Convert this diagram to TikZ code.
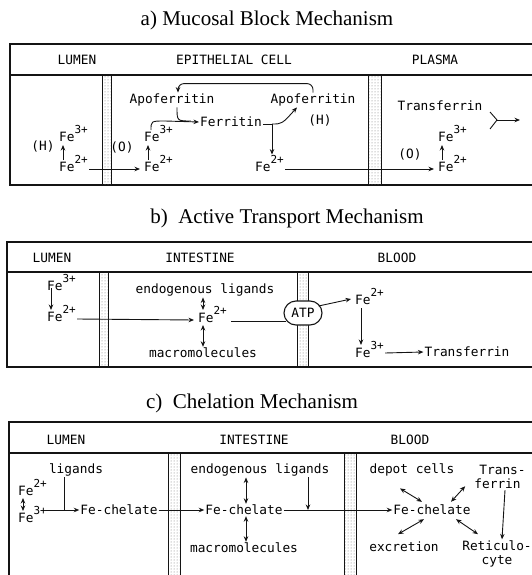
\documentclass[tikz,border=0pt]{standalone}
\usepackage{fontspec}
\setmainfont{Liberation Serif}
\setmonofont{DejaVu Sans Mono}
\usepackage{tikz}
\usetikzlibrary{arrows.meta,patterns,shapes.misc}
\definecolor{figline}{RGB}{20,20,20}
\newcommand{\ion}[1]{Fe\raisebox{0.55em}{\fontsize{11}{12}\selectfont #1}}
\tikzset{
  lbl/.style={font=\fontsize{12.8}{14.5}\ttfamily, inner sep=1pt, text=black, align=center},
  ion/.style={lbl, anchor=base west},
  figtitle/.style={font=\fontsize{21}{23}\selectfont, inner sep=0pt},
  frame/.style={draw=figline, line width=1.2pt},
  membrane/.style={draw=figline, line width=0.9pt, pattern=dots, pattern color=black!55},
  line/.style={-{Stealth[length=5.5pt,width=4.5pt]}, draw=figline, line width=0.9pt},
  dline/.style={{Stealth[length=5.5pt,width=4.5pt]}-{Stealth[length=5.5pt,width=4.5pt]}, draw=figline, line width=0.9pt},
  plain/.style={draw=figline, line width=0.9pt},
  atpbox/.style={rounded rectangle, draw=figline, line width=1.1pt, fill=white, minimum width=40pt, minimum height=24pt, font=\fontsize{12.8}{14.5}\ttfamily, inner sep=1pt}
}
\begin{document}
\begin{tikzpicture}[x=1pt,y=-1pt]
  \useasboundingbox (0,0) rectangle (532,575);
  \clip (0,0) rectangle (532,575);
  % a) mucosal block
  \node[figtitle] (ta) at (267,20) {a) Mucosal Block Mechanism};
  \draw[frame] (545,44) -- (10,44) -- (10,185) -- (545,185);
  \draw[frame] (10,75) -- (545,75);
  \draw[membrane] (102,75) rectangle (111,185);
  \draw[membrane] (368,75) rectangle (381,185);
  \node[lbl] (lumA) at (77,60) {LUMEN};
  \node[lbl] (cellA) at (234,60) {EPITHELIAL CELL};
  \node[lbl] (plasA) at (435,60) {PLASMA};
  \node[lbl] (apoL) at (172,100) {Apoferritin};
  \node[lbl] (apoR) at (313,100) {Apoferritin};
  \node[lbl] (ferr) at (231,122) {Ferritin};
  \node[lbl] (hR) at (320,120) {(H)};
  \node[lbl] (trA) at (440,106) {Transferrin};
  \node[lbl] (hL) at (43,146) {(H)};
  \node[lbl] (oL) at (122,147) {(O)};
  \node[lbl] (oR) at (410,154) {(O)};
  \node[ion] (feL3) at (58,141) {\ion{3+}};
  \node[ion] (feL2) at (58,171) {\ion{2+}};
  \node[ion] (feM3) at (143,141) {\ion{3+}};
  \node[ion] (feM2) at (143,171) {\ion{2+}};
  \node[ion] (feC2) at (254,171) {\ion{2+}};
  \node[ion] (feR3) at (437,141) {\ion{3+}};
  \node[ion] (feR2) at (437,171) {\ion{2+}};
  \coordinate (jf) at (165,121);
  \coordinate (jr) at (272,124);
  \coordinate (fk1) at (490,112);
  \coordinate (fk2) at (490,129);
  \coordinate (fkm) at (497,120);
  \coordinate (fkend) at (520,120);
  \draw[line] ([shift={(5,-11)}]feL2.base west) -- ([shift={(5,4)}]feL3.base west);
  \draw[line] ([shift={(5,-11)}]feM2.base west) -- ([shift={(5,4)}]feM3.base west);
  \draw[line] ([shift={(5,-11)}]feR2.base west) -- ([shift={(5,4)}]feR3.base west);
  \draw[line] ([yshift=2pt]feL2.base east) -- ([shift={(-3,-2)}]feM2.base west);
  \draw[line] ([yshift=2pt]feC2.base east) -- ([shift={(-3,-2)}]feR2.base west);
  \draw[plain] ([shift={(8,-11)}]feM3.base west) .. controls (151,121) .. (jf);
  \draw[line] (jf) -- (ferr.west);
  \draw[plain] ([xshift=5pt]apoL.south) .. controls ([xshift=5pt]apoL.south |- jf) .. ([xshift=-8pt]ferr.west |- jf);
  \draw[plain] ([yshift=-2pt]ferr.east) -- (jr);
  \draw[line] (jr) .. controls (282,124) .. ([xshift=-16pt]apoR.south);
  \draw[line] (jr) -- (jr |- feC2.north);
  \draw[line, rounded corners=6pt] (apoR.north) -- ++(0,-9) -| ([xshift=6pt]apoL.north);
  \draw[plain] (fk1) -- (fkm) -- (fk2);
  \draw[line] (fkm) -- (fkend);
  % b) active transport
  \node[figtitle] (tb) at (287,218) {b)\ \ Active Transport Mechanism};
  \draw[frame] (545,242) -- (7,242) -- (7,367) -- (545,367);
  \draw[frame] (7,272) -- (545,272);
  \draw[membrane] (99,272) rectangle (108,367);
  \draw[membrane] (297,272) rectangle (308,367);
  \node[lbl] (lumB) at (52,258) {LUMEN};
  \node[lbl] (intB) at (200,258) {INTESTINE};
  \node[lbl] (bldB) at (397,258) {BLOOD};
  \node[ion] (feB3) at (46,290) {\ion{3+}};
  \node[ion] (feB2) at (46,321) {\ion{2+}};
  \node[ion] (feI2) at (197,322) {\ion{2+}};
  \node[lbl] (endoB) at (205,290) {endogenous ligands};
  \node[lbl] (macB) at (203,353) {macromolecules};
  \node[atpbox] (atp) at (303,313) {ATP};
  \node[ion] (feD2) at (354,304) {\ion{2+}};
  \node[ion] (feD3) at (354,357) {\ion{3+}};
  \node[lbl] (trB) at (467,352) {Transferrin};
  \coordinate (atpin) at ([shift={(3,8)}]atp.west);
  \draw[line] ([shift={(5,-3)}]feB3.south west) -- ([shift={(5,-11)}]feB2.base west);
  \draw[line] ([yshift=2pt]feB2.base east) -- ([shift={(-3,-2)}]feI2.base west);
  \draw[dline] ([xshift=6pt]endoB.south -| feI2.west) -- ([shift={(6,-12)}]feI2.base west);
  \draw[dline] ([shift={(6,3)}]feI2.base west) -- ([xshift=6pt]macB.north -| feI2.west);
  \draw[plain] ([xshift=3pt]atpin -| feI2.east) -- (atpin);
  \draw[line] ([shift={(-4,-7)}]atp.east) -- ([shift={(-3,-5)}]feD2.base west);
  \draw[line] ([shift={(7,4)}]feD2.base west) -- ([shift={(7,-12)}]feD3.base west);
  \draw[line] ([yshift=4pt]feD3.base east) -- (trB.west);
  % c) chelation
  \node[figtitle] (tc) at (252,403) {c)\ \ Chelation Mechanism};
  \draw[frame] (545,422) -- (9,422) -- (9,590);
  \draw[frame] (9,453) -- (545,453);
  \draw[membrane] (168,453) rectangle (180,590);
  \draw[membrane] (344,453) rectangle (356,590);
  \node[lbl] (lumC) at (66,440) {LUMEN};
  \node[lbl] (intC) at (254,440) {INTESTINE};
  \node[lbl] (bldC) at (410,440) {BLOOD};
  \node[lbl] (ligC) at (76,470) {ligands};
  \node[ion] (feC2b) at (17,495) {\ion{2+}};
  \node[ion] (feC3b) at (17,522) {\ion{3+}};
  \node[lbl] (chelL) at (119,510) {Fe-chelate};
  \node[lbl] (endoC) at (260,470) {endogenous ligands};
  \node[lbl] (chelI) at (244,510) {Fe-chelate};
  \node[lbl] (macC) at (244,548) {macromolecules};
  \node[lbl] (chelB) at (432,510) {Fe-chelate};
  \node[lbl] (depot) at (412,470) {depot cells};
  \node[lbl, align=left] (trC) at (500,477) {\hspace*{5pt}Trans-\\ferrin};
  \node[lbl] (excr) at (404,547) {excretion};
  \node[lbl] (retic) at (497,554) {Reticulo-\\cyte};
  \coordinate (jl) at (64,510);
  \coordinate (jc) at (308,510);
  \draw[dline] ([shift={(6,3)}]feC2b.base west) -- ([shift={(6,-11)}]feC3b.base west);
  \draw[plain] ([shift={(-2,-12)}]feC3b.base east) -- (jl);
  \draw[plain] (ligC.south -| jl) -- (jl);
  \draw[line] (jl) -- (chelL.west);
  \draw[line] (chelL.east) -- (chelI.west);
  \draw[dline] ([xshift=2pt]endoC.south -| chelI) -- ([xshift=2pt]chelI.north);
  \draw[dline] ([xshift=2pt]chelI.south) -- ([xshift=2pt]macC.north);
  \draw[line] (endoC.south -| jc) -- (jc);
  \draw[line] (chelI.east) -- (chelB.west);
  \draw[dline] ([shift={(-12,11)}]depot.south) -- ([shift={(-10,-2)}]chelB.north);
  \draw[dline] ([shift={(19,-2)}]chelB.north) -- ([shift={(-8,-4)}]trC.south west);
  \draw[dline] ([shift={(-34,18)}]chelB.south) -- ([shift={(-8,3)}]chelB.south);
  \draw[dline] ([shift={(24,3)}]chelB.south) -- ([shift={(46,18)}]chelB.south);
  \draw[line] ([xshift=5pt]trC.south) -- ([xshift=5pt]retic.north);
\end{tikzpicture}
\end{document}
